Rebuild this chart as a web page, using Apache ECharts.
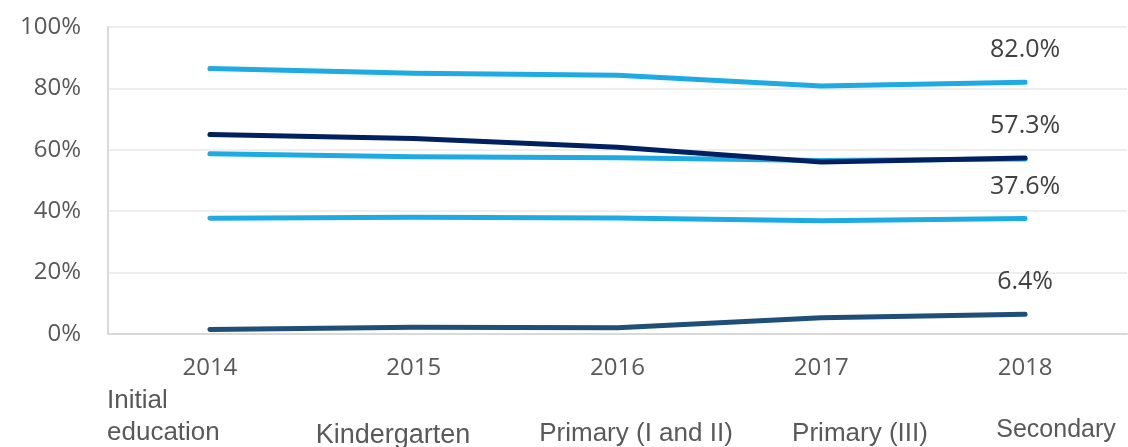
<!DOCTYPE html>
<html>
<head>
<meta charset="utf-8">
<script src="https://cdn.jsdelivr.net/npm/echarts@6/dist/echarts.min.js"></script>
<style>
  html, body { margin: 0; padding: 0; background: #ffffff; }
  #chart { width: 1128px; height: 447px; }
</style>
</head>
<body>
<div id="chart"></div>
<script>
// ---- data ----
const years = ['2014', '2015', '2016', '2017', '2018'];
const seriesNames = ['Initial education', 'Kindergarten', 'Primary (I and II)', 'Primary (III)', 'Secondary'];
const initialEducation = [1.5, 2.2, 2.0, 5.3, 6.4];
const kindergarten = [37.7, 38.0, 37.8, 36.9, 37.6];
const primaryIandII = [86.5, 84.9, 84.3, 80.8, 82.0];
const primaryIII = [58.7, 57.7, 57.4, 56.5, 57.0];
const secondary = [65.0, 63.7, 60.8, 56.0, 57.3];
const yTicks = [0, 20, 40, 60, 80, 100];
const showEndLabel = [true, true, true, false, true];

// ---- styles ----
const colors = ['#1F4E79', '#1FAAE2', '#1FAAE2', '#1FAAE2', '#002060'];
const allData = [initialEducation, kindergarten, primaryIandII, primaryIII, secondary];

const chart = echarts.init(document.getElementById('chart'), null, { renderer: 'canvas' });

const series = allData.map((arr, si) => ({
  name: seriesNames[si],
  type: 'line',
  symbol: 'circle',
  symbolSize: 1,
  showSymbol: true,
  z: 2 + si,
  itemStyle: { color: colors[si] },
  lineStyle: { color: colors[si], width: 5, cap: 'round', join: 'round' },
  data: arr.map((v, i) => ({
    value: v,
    label: {
      show: showEndLabel[si] && i === arr.length - 1,
      position: 'top',
      distance: 19,
      formatter: (p) => p.value.toFixed(1) + '%',
      fontFamily: 'Open Sans',
      fontSize: 25,
      color: '#404040'
    }
  }))
}));

const bottomText = { fontFamily: 'Liberation Sans', fontSize: 26, fill: '#595959' };

const option = {
  animation: false,
  backgroundColor: '#ffffff',
  grid: { left: 108, right: 1, top: 27, bottom: 113, containLabel: false },
  xAxis: {
    type: 'category',
    data: years,
    boundaryGap: true,
    axisLine: { show: true, lineStyle: { color: '#D9D9D9', width: 2 } },
    axisTick: { show: false },
    axisLabel: { fontFamily: 'Open Sans', fontSize: 24, color: '#595959', margin: 22 },
    splitLine: { show: false }
  },
  yAxis: {
    type: 'value',
    min: yTicks[0],
    max: yTicks[yTicks.length - 1],
    interval: 20,
    axisLine: { show: true, lineStyle: { color: '#D9D9D9', width: 2 } },
    axisTick: { show: false },
    axisLabel: { fontFamily: 'Open Sans', fontSize: 24, color: '#595959', margin: 27, formatter: '{value}%' },
    splitLine: { show: true, lineStyle: { color: '#EEEEEE', width: 2 } }
  },
  graphic: [
    { type: 'text', left: 107, top: 385, style: Object.assign({ text: 'Initial\neducation', lineHeight: 32 }, bottomText) },
    { type: 'text', x: 393, y: 436, style: Object.assign({}, bottomText, { text: seriesNames[1], align: 'center', verticalAlign: 'middle', fontSize: 27 }) },
    { type: 'text', x: 636, y: 434, style: Object.assign({}, bottomText, { text: seriesNames[2], align: 'center', verticalAlign: 'middle' }) },
    { type: 'text', x: 860, y: 434, style: Object.assign({}, bottomText, { text: seriesNames[3], align: 'center', verticalAlign: 'middle' }) },
    { type: 'text', x: 1056, y: 430, style: Object.assign({}, bottomText, { text: seriesNames[4], align: 'center', verticalAlign: 'middle', fontSize: 25 }) }
  ],
  series: series
};

chart.setOption(option);
</script>
</body>
</html>
